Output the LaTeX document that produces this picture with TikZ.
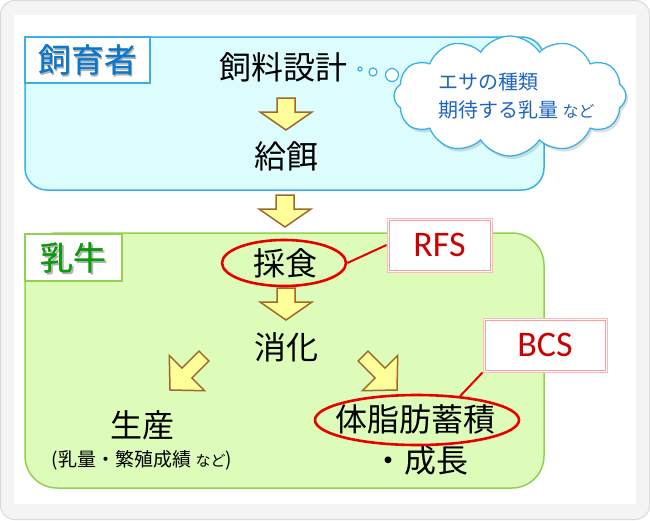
\documentclass[tikz,border=0pt]{standalone}
\usepackage{fontspec}
\setmainfont{Noto Sans CJK JP}
\newfontfamily\latinf{Carlito}
\usetikzlibrary{shapes.symbols,shapes.geometric,shadows}
\definecolor{framegray}{HTML}{F4F4F4}
\definecolor{frameline}{HTML}{DADADA}
\definecolor{bluefill}{HTML}{DCFCFE}
\definecolor{blueline}{HTML}{38B2E6}
\definecolor{bluetext}{HTML}{0A78CC}
\definecolor{greenfill}{HTML}{DDFCBA}
\definecolor{greenline}{HTML}{92D050}
\definecolor{greentext}{HTML}{0A9A0A}
\definecolor{arrowfill}{HTML}{FFFF99}
\definecolor{arrowline}{HTML}{A0682A}
\definecolor{redline}{HTML}{E80000}
\definecolor{redtext}{HTML}{CC0000}
\definecolor{pinkline}{HTML}{FF9A9A}
\definecolor{cloudtext}{HTML}{1F64C0}
\tikzset{
  maintext/.style={font=\fontsize{32}{36}\selectfont, text=black, inner sep=0},
  labelbox/.style={fill=white, line width=1.3},
  labeltext/.style={font=\fontsize{33}{36}\selectfont, inner sep=0},
  blockarrow/.style={fill=arrowfill, draw=arrowline, line width=1.5, line join=miter},
  vdarrow/.pic={\draw[blockarrow] (0,0)--(26,18)--(9,18)--(9,32)--(-9,32)--(-9,18)--(-26,18)--cycle;},
  dgarrow/.pic={\draw[blockarrow] (0,0)--(25,24)--(7,24)--(7,48)--(-7,48)--(-7,24)--(-25,24)--cycle;},
  redell/.style={ellipse, draw=redline, line width=2.6, inner sep=0},
  redlink/.style={draw=redline, line width=2},
  tagbox/.style={fill=white, draw=pinkline!70, line width=1, inner sep=0, font=\latinf\fontsize{36}{40}\selectfont, text=redtext},
  taginner/.style={draw=pinkline, line width=1},
  bubble/.style={circle, fill=white, draw=blueline, line width=1.2, inner sep=0},
}
\begin{document}
\begin{tikzpicture}[x=1pt,y=1pt]
\useasboundingbox (0,0) rectangle (650,-520);
% frame
\draw[fill=framegray, draw=frameline, line width=1, rounded corners=14] (0.5,-0.5) rectangle (649.5,-519.5);
\fill[white] (14,-15) rectangle (636,-504);
% breeder box
\draw[fill=bluefill, draw=blueline, line width=1.5, rounded corners=22] (25,-37) rectangle (544,-190);
\draw[labelbox, draw=blueline] (25,-37) rectangle (150,-83);
\node[labeltext, text=gray!60] at (89,-61.5) {飼育者};
\node[labeltext, text=bluetext] (lblA) at (87.5,-60) {飼育者};
\node[labeltext, text=bluetext] at (87.9,-60) {飼育者};
% cow box
\draw[fill=greenfill, draw=greenline, line width=1.5, rounded corners=32] (25,-233) rectangle (544,-488);
\draw[labelbox, draw=greenline] (25,-234) rectangle (122,-281);
\node[labeltext, text=gray!60] at (75,-259.5) {乳牛};
\node[labeltext, text=greentext] (lblB) at (73.5,-258) {乳牛};
\node[labeltext, text=greentext] at (73.9,-258) {乳牛};
% texts
\node[maintext] (design) at (283,-67) {飼料設計};
\node[maintext] (feed) at (286,-156) {給餌};
\node[maintext] (intake) at (285,-263) {採食};
\node[maintext] (digest) at (286,-347) {消化};
\node[maintext] (prod) at (142,-425) {生産};
\node[inner sep=0, font=\fontsize{19}{22}\selectfont] (prodsub) at (142,-460) {(乳量・繁殖成績 {\fontsize{15}{18}\selectfont など})};
\node[maintext] (fat) at (415,-419) {体脂肪蓄積};
\node[maintext] (growth) at (420,-460) {・成長};
% arrows
\pic at (286,-130) {vdarrow};
\pic at (285,-227) {vdarrow};
\pic at (286,-320) {vdarrow};
\pic[rotate=-45] at (170,-390) {dgarrow};
\pic[rotate=45] at (397,-390) {dgarrow};
% ellipses and tags
\node[redell, minimum width=124, minimum height=46] (e1) at (284,-263) {};
\node[redell, minimum width=204, minimum height=50] (e2) at (417,-420) {};
\node[tagbox, minimum width=105, minimum height=54] (rfs) at (439.5,-245) {RFS};
\draw[taginner] ([shift={(2.5,2.5)}]rfs.south west) rectangle ([shift={(-2.5,-2.5)}]rfs.north east);
\node[tagbox, minimum width=124, minimum height=54] (bcs) at (545,-345) {BCS};
\draw[taginner] ([shift={(2.5,2.5)}]bcs.south west) rectangle ([shift={(-2.5,-2.5)}]bcs.north east);
\draw[redlink] (e1.east) -- (rfs.west);
\draw[redlink] (e2.29) -- (bcs.south west);
% cloud
\node[cloud, cloud puffs=12, cloud puff arc=115, cloud ignores aspect, minimum width=232, minimum height=120, inner sep=0, fill=white, draw=blueline, line width=1.3, drop shadow={opacity=0.25, shadow xshift=2, shadow yshift=-3}] (cloud) at (510,-96) {};
\node[bubble, minimum size=4] (b1) at (360,-69) {};
\node[bubble, minimum size=8] (b2) at (373,-72) {};
\node[bubble, minimum size=13] (b3) at (392,-75) {};
\node[anchor=west, inner sep=0, text=cloudtext, font=\fontsize{20}{24}\selectfont] (c1) at (438,-82) {エサの種類};
\node[anchor=west, inner sep=0, text=cloudtext, font=\fontsize{20}{24}\selectfont] (c2) at (438,-110) {期待する乳量 {\fontsize{16}{18}\selectfont など}};
\end{tikzpicture}
\end{document}
